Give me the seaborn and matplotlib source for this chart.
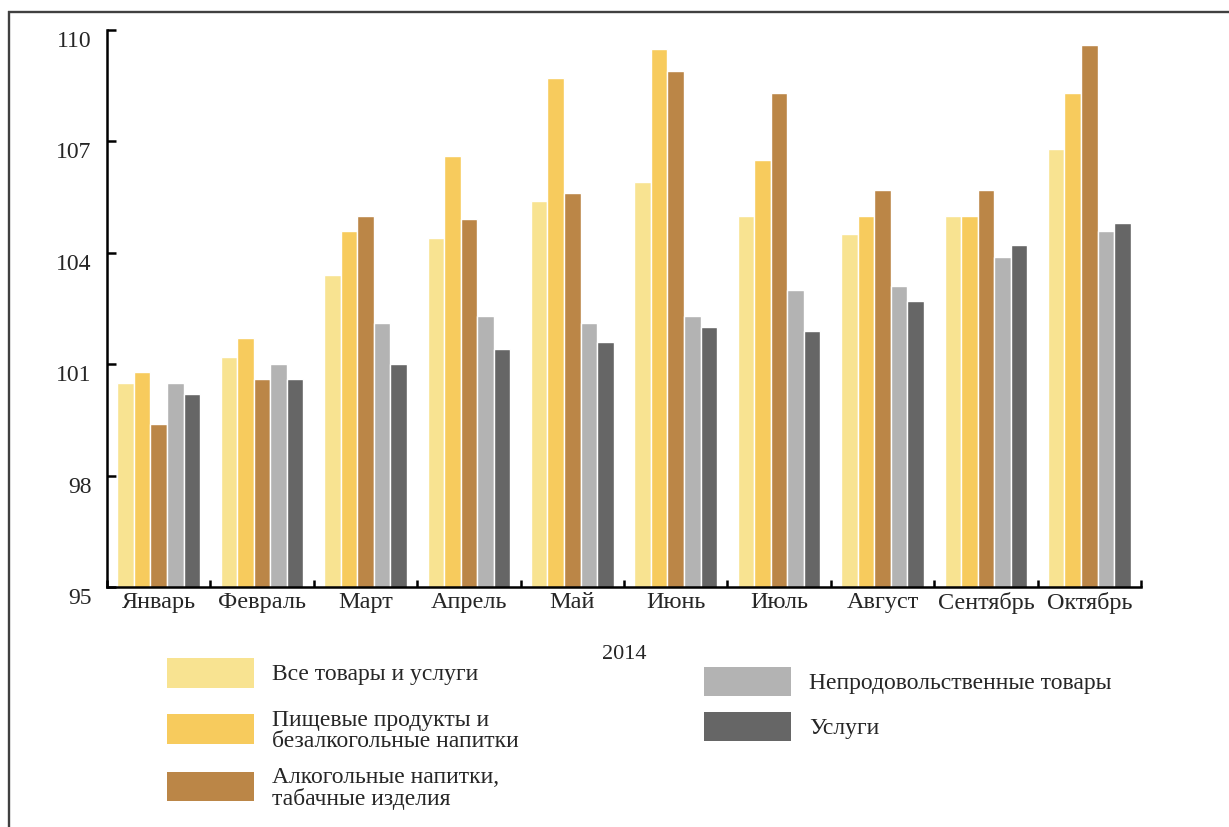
import numpy as np
import pandas as pd
import matplotlib
matplotlib.use('Agg')
import matplotlib.pyplot as plt
from matplotlib.patches import Rectangle
from matplotlib.lines import Line2D
import seaborn as sns

# index values, previous December = 100
months = ['Январь', 'Февраль', 'Март', 'Апрель', 'Май', 'Июнь', 'Июль', 'Август', 'Сентябрь', 'Октябрь']
series = ['Все товары и услуги',
          'Пищевые продукты и\nбезалкогольные напитки',
          'Алкогольные напитки,\nтабачные изделия',
          'Непродовольственные товары',
          'Услуги']
all_goods = [100.5, 101.2, 103.4, 104.4, 105.4, 105.9, 105.0, 104.5, 105.0, 106.8]
food = [100.8, 101.7, 104.6, 106.6, 108.7, 109.5, 106.5, 105.0, 105.0, 108.3]
alcohol = [99.4, 100.6, 105.0, 104.9, 105.6, 108.9, 108.3, 105.7, 105.7, 109.6]
nonfood = [100.5, 101.0, 102.1, 102.3, 102.1, 102.3, 103.0, 103.1, 103.9, 104.6]
services = [100.2, 100.6, 101.0, 101.4, 101.6, 102.0, 101.9, 102.7, 104.2, 104.8]
y_ticks = [95, 98, 101, 104, 107, 110]
colors = ['#F8E391', '#F7CB5D', '#BB8647', '#B3B3B3', '#666666']

df = pd.DataFrame({
    'month': months * 5,
    'series': np.repeat(series, len(months)),
    'value': all_goods + food + alcohol + nonfood + services,
})

sns.set_theme(style='white')
plt.rcParams['font.family'] = ['Liberation Serif', 'DejaVu Serif']

W, H = 1229, 828
fig = plt.figure(figsize=(W / 100, H / 100), dpi=100)
ax = fig.add_axes([107 / W, 1 - 588 / H, (1141 - 107) / W, (588 - 31) / H])

sns.barplot(data=df, x='month', y='value', hue='series', order=months, hue_order=series,
            palette=colors, width=0.8, edgecolor='white', linewidth=1.0,
            saturation=1, legend=False, ax=ax)

ax.set_ylim(95, 110)
ax.set_xlim(-0.5, len(months) - 0.5)
ax.set_yticks(y_ticks)
ax.set_yticklabels([str(t) for t in y_ticks])
ax.set_xticks(np.arange(-0.5, len(months), 1), minor=True)

for side in ['top', 'right']:
    ax.spines[side].set_visible(False)
for side in ['left', 'bottom']:
    ax.spines[side].set_color('black')
    ax.spines[side].set_linewidth(1.8)

ax.tick_params(axis='y', direction='in', length=6.5, width=1.8, color='black',
               labelsize=17, pad=11, left=True)
ax.tick_params(axis='x', which='major', length=0, labelsize=17.5, pad=3)
ax.tick_params(axis='x', which='minor', direction='in', length=5, width=1.8,
               color='black', bottom=True)
for lab in ax.get_yticklabels():
    lab.set_verticalalignment('top')

ax.set_ylabel('')
ax.set_xlabel('2014', fontsize=16, labelpad=22)
ax.grid(False)


def fx(x):
    return x / W


def fy(y):
    return 1 - y / H


# legend, two columns
left_boxes = [(659, 689), (715, 745), (773, 802)]
right_boxes = [(668, 697), (713, 742)]
boxes = [(167, b) for b in left_boxes] + [(704, b) for b in right_boxes]
for (x0, (y0, y1)), name, col in zip(boxes, series, colors):
    fig.add_artist(Rectangle((fx(x0), fy(y1)), 87 / W, (y1 - y0) / H,
                             transform=fig.transFigure, facecolor=col, edgecolor='none'))
    fig.text(fx(x0 + 105), fy((y0 + y1) / 2 + 1), name, fontsize=17, va='center',
             ha='left', linespacing=0.98)

# outer frame
fig.add_artist(Line2D([fx(8), 1], [fy(12.5), fy(12.5)], color='#404040', lw=1.7,
                      solid_capstyle='butt', transform=fig.transFigure))
fig.add_artist(Line2D([fx(9), fx(9)], [0, fy(11.5)], color='#404040', lw=1.7,
                      solid_capstyle='butt', transform=fig.transFigure))

fig.savefig('out.png', dpi=100)
